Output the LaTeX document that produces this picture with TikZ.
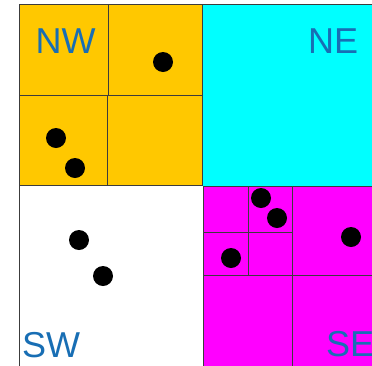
\documentclass[tikz,border=0pt]{standalone}
\usepackage{fontspec}
\setmainfont{Liberation Sans}
\definecolor{qyellow}{RGB}{255,200,0}
\definecolor{qcyan}{RGB}{0,255,255}
\definecolor{qmag}{RGB}{255,0,255}
\definecolor{qblue}{RGB}{24,110,180}
\definecolor{qline}{RGB}{60,60,60}
\begin{document}
\begin{tikzpicture}[x=1pt,y=-1pt,
  cell/.style={draw=qline,line width=0.9pt},
  dot/.style={fill=black,circle,inner sep=0pt,minimum size=20pt},
  lbl/.style={text=qblue,font=\fontsize{36}{36}\selectfont,inner sep=0pt,anchor=base west}]
\useasboundingbox (0,0) rectangle (372,365);
\begin{scope}
\clip (0,0) rectangle (372,365);
% quadrants
\fill[qyellow] (19,4) rectangle (203,185);
\fill[qcyan] (203,4) rectangle (380,186);
\fill[white] (19,186) rectangle (203,370);
\fill[qmag] (203,186) rectangle (380,370);
% NW subdivision
\draw[cell] (19,4) rectangle (108,95);
\draw[cell] (108,4) rectangle (202,95);
\draw[cell] (19,95) rectangle (107,185);
\draw[cell] (107,95) rectangle (202,185);
% NE
\draw[cell] (203,4) -- (380,4);
\draw[cell] (202.5,4) -- (202.5,186);
% SW
\draw[cell] (19,185) -- (19,370);
\draw[cell] (19,185.5) -- (203,185.5);
% SE subdivision
\draw[cell] (203,186) rectangle (248,232);
\draw[cell] (248,186) rectangle (292,232);
\draw[cell] (203,232) rectangle (248,275);
\draw[cell] (248,232) rectangle (292,275);
\draw[cell] (292,186) -- (292,370);
\draw[cell] (292,275) -- (380,275);
\draw[cell] (203,186) -- (380,186);
\draw[cell] (203,186) -- (203,370);
% dots
\node[dot] (d1) at (163,62) {};
\node[dot] (d2) at (56,138) {};
\node[dot] (d3) at (75,168) {};
\node[dot] (d4) at (79,240) {};
\node[dot] (d5) at (103,276) {};
\node[dot] (d6) at (261,198) {};
\node[dot] (d7) at (277,218) {};
\node[dot] (d8) at (231,258) {};
\node[dot] (d9) at (351,237) {};
% labels
\node[lbl] (nw) at (35.5,53) {NW};
\node[lbl] (ne) at (308,53) {NE};
\node[lbl] (sw) at (22,357) {SW};
\node[lbl] (se) at (326,356) {SE};
\end{scope}
\end{tikzpicture}
\end{document}
